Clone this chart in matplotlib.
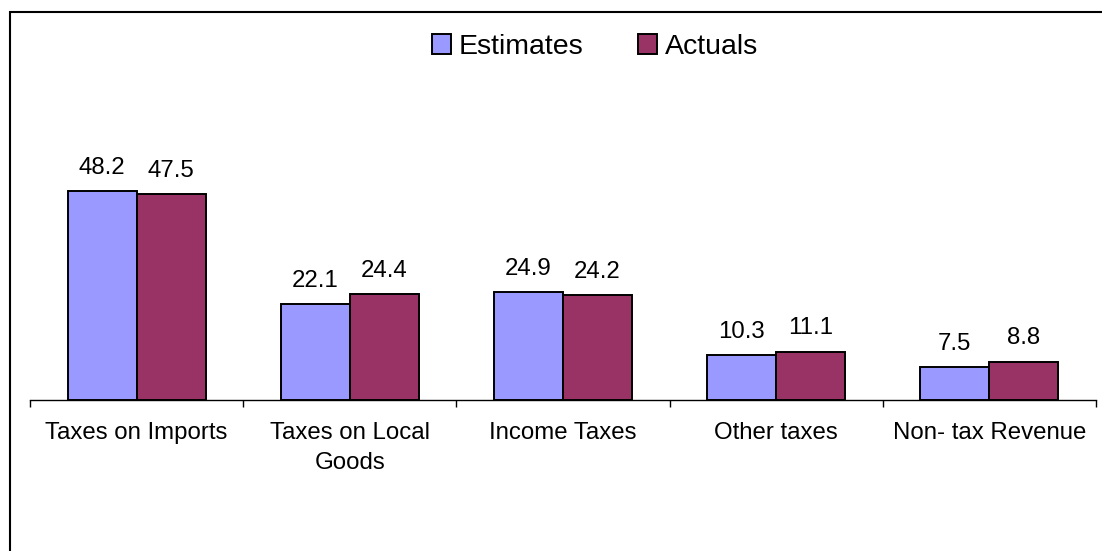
import matplotlib
matplotlib.use("Agg")
import matplotlib.pyplot as plt
import matplotlib.patches as mpatches
import numpy as np

categories = ["Taxes on Imports", "Taxes on Local\nGoods", "Income Taxes", "Other taxes", "Non- tax Revenue"]
estimates = [48.2, 22.1, 24.9, 10.3, 7.5]
actuals = [47.5, 24.4, 24.2, 11.1, 8.8]
series_names = ["Estimates", "Actuals"]
colors = ["#9999FF", "#993366"]

plt.rcParams['font.family'] = ['Liberation Sans', 'DejaVu Sans']

W, H = 1102, 551
fig = plt.figure(figsize=(W / 100, H / 100), dpi=100)

# outer border (cropped at right/bottom)
fig.patches.append(mpatches.Rectangle((10 / W, -0.1), 2.0, (H - 12) / H + 0.1,
                                      transform=fig.transFigure, fill=False,
                                      edgecolor="black", linewidth=1.5, zorder=0))

left, right = 30 / W, 1096 / W
base_y = 400
ymax = 60
ppu = (400 - 191) / 48.2
top_y = base_y - ymax * ppu
ax = fig.add_axes([left, (H - base_y) / H, right - left, (base_y - top_y) / H])
ax.set_facecolor("none")

x = np.arange(len(categories))
w = 0.324
b1 = ax.bar(x - w / 2, estimates, w, color=colors[0], edgecolor="black", linewidth=1.4, label=series_names[0])
b2 = ax.bar(x + w / 2, actuals, w, color=colors[1], edgecolor="black", linewidth=1.4, label=series_names[1])

for bars, vals in ((b1, estimates), (b2, actuals)):
    for rect, v in zip(bars, vals):
        ax.annotate(f"{v:.1f}", (rect.get_x() + rect.get_width() / 2, rect.get_height()),
                    xytext=(0, 9), textcoords="offset points", ha="center", va="bottom",
                    fontsize=17.3)

ax.set_xlim(-0.5, len(categories) - 0.5)
ax.set_ylim(0, ymax)
for s in ("left", "right", "top"):
    ax.spines[s].set_visible(False)
ax.spines["bottom"].set_linewidth(1.0)
ax.set_yticks([])
ax.set_xticks(x)
ax.set_xticklabels(categories, fontsize=17.3, linespacing=1.45)
ax.tick_params(axis="x", which="major", length=0, pad=16)
ax.set_xticks(np.arange(-0.5, len(categories), 1.0), minor=True)
ax.tick_params(axis="x", which="minor", length=5, width=1.0, direction="out")

fig.legend(handles=[b1, b2], labels=series_names, loc="center",
           bbox_to_anchor=(595 / W, (H - 47) / H), ncol=2, frameon=False,
           fontsize=20.5, handlelength=0.66, handleheight=0.66, handletextpad=0.28,
           columnspacing=1.9, borderpad=0)

fig.savefig("out.png", dpi=100)
